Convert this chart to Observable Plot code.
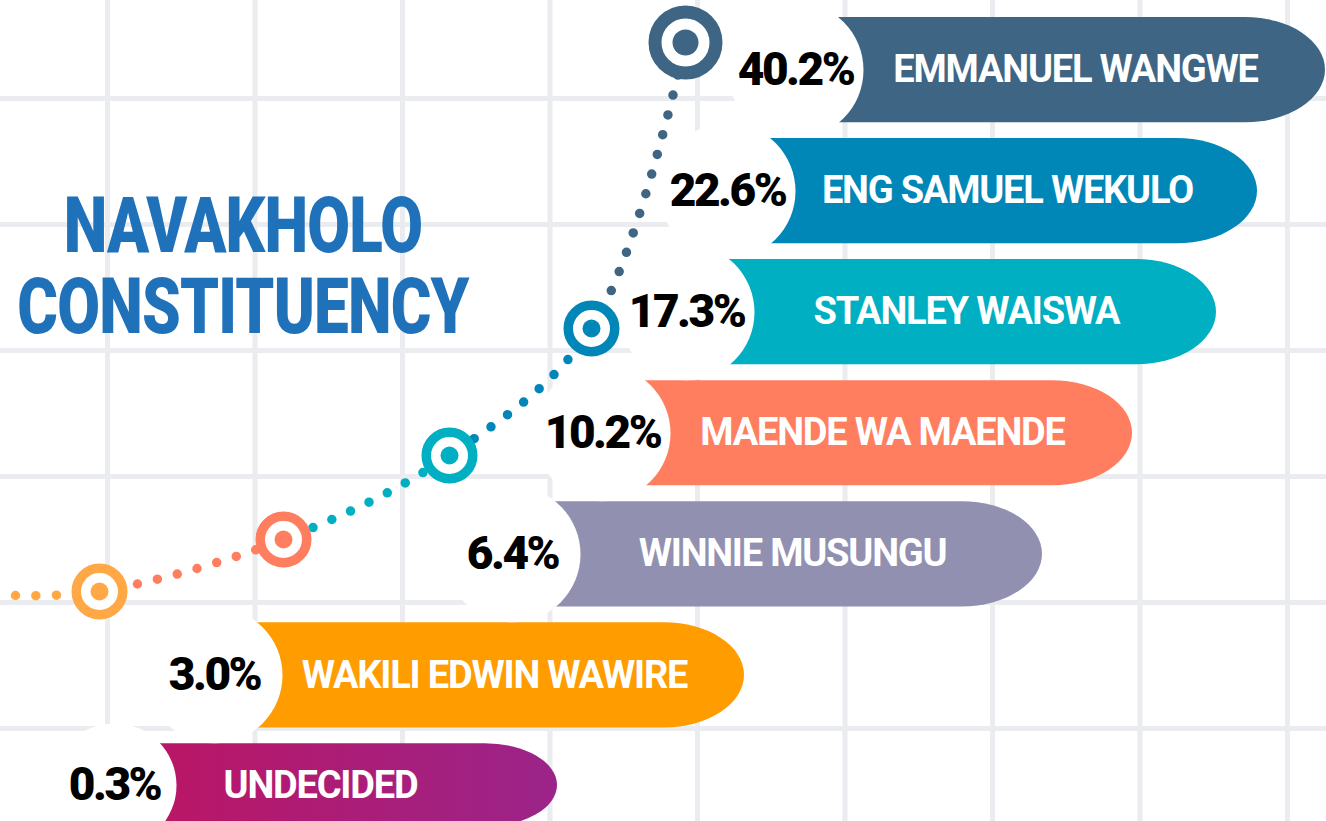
<!DOCTYPE html>
<html>
<head>
<meta charset="utf-8">
<script src="https://cdn.jsdelivr.net/npm/d3@7"></script>
<script src="https://cdn.jsdelivr.net/npm/@observablehq/plot@0.6"></script>
<style>
  html, body { margin: 0; padding: 0; background: #ffffff; }
  #wrap { position: relative; width: 1326px; height: 821px; overflow: hidden; background: #ffffff; }
  #wrap .layer { position: absolute; left: 0; top: 0; }
  .title { position: absolute; width: 800px; text-align: center; white-space: pre;
    font-family: Roboto, "Open Sans", sans-serif; font-weight: 900; font-size: 78px; line-height: 81px;
    color: #1f72ba; letter-spacing: -1px; transform-origin: 50% 50%; transform: scaleX(0.795); }
  g[aria-description="share-label"] text { letter-spacing: -2.5px; }
  g[aria-description="name-label"] text { letter-spacing: -1.2px; }
</style>
</head>
<body>
<div id="wrap">
  <svg width="0" height="0" style="position:absolute;left:0;top:0">
    <defs>
      <linearGradient id="undecidedFill" x1="0" y1="0" x2="1" y2="0">
        <stop offset="0" stop-color="#c1135d"></stop>
        <stop offset="1" stop-color="#9b248a"></stop>
      </linearGradient>
      <linearGradient id="trendStroke" gradientUnits="userSpaceOnUse" x1="0" y1="0" x2="1326" y2="0"></linearGradient>
    </defs>
  </svg>
</div>
<script>
// ---------- data ----------
const candidateNames = ["EMMANUEL WANGWE", "ENG SAMUEL WEKULO", "STANLEY WAISWA", "MAENDE WA MAENDE",
                        "WINNIE MUSUNGU", "WAKILI EDWIN WAWIRE", "UNDECIDED"];
const shares = [40.2, 22.6, 17.3, 10.2, 6.4, 3.0, 0.3];
const barColors = ["#3e6584", "#0087b8", "#00afc2", "#ff7e5f", "#9290b1", "#ff9c00", "url(#undecidedFill)"];
const markerColors = ["#3e6584", "#0087b8", "#00afc2", "#ff7e5f", "#9290b1", "#ffa845", "#ffa845"];
// anchors of the decorative trend curve, left to right
const trendNames = ["UNDECIDED", "WAKILI EDWIN WAWIRE", "MAENDE WA MAENDE", "STANLEY WAISWA",
                    "ENG SAMUEL WEKULO", "EMMANUEL WANGWE"];
const markedNames = ["WAKILI EDWIN WAWIRE", "MAENDE WA MAENDE", "STANLEY WAISWA",
                     "ENG SAMUEL WEKULO", "EMMANUEL WANGWE"];
const gridColumns = [0, 1, 2, 3, 4, 5, 6, 7, 8, 9];
const gridRows = [0, 1, 2, 3, 4, 5, 6, 7];
const titleLines = ["NAVAKHOLO", "CONSTITUENCY"];

// ---------- layout (scale ranges) ----------
const W = 1326, H = 821;
const layout = {
  labelX: [114, 214, 512, 602, 686, 727, 795], // for shares in ascending order
  rowRange: [17, 848.5],
  rowPadding: 0.1308,
  trendX: [15, 99, 283, 449, 591, 685],
  trendY: [595, 591, 539, 455, 328, 42],
  gridX: [-40.5, 1287],
  gridY: [-28, 854],
  title: {top: 185, center: 243}
};

const rows = candidateNames.map((name, i) => ({name, share: shares[i]}));
const isUndecided = d => d.name === "UNDECIDED";
const contenders = rows.filter(d => !isUndecided(d));
const undecided = rows.filter(isUndecided);
const ascending = d3.sort(shares);
const fmt = d => d3.format(".1f")(d.share) + "%";
const wrap = document.getElementById("wrap");

// ---------- layer 1: grid ----------
const gridPlot = Plot.plot({
  width: W, height: H, margin: 0,
  x: {type: "linear", domain: [0, gridColumns.length - 1], range: layout.gridX, axis: null},
  y: {type: "linear", domain: [0, gridRows.length - 1], range: layout.gridY, axis: null},
  style: {background: "#ffffff"},
  marks: [
    Plot.gridX(gridColumns, {stroke: "#ebecef", strokeWidth: 5, strokeOpacity: 1}),
    Plot.gridY(gridRows, {stroke: "#ebecef", strokeWidth: 5, strokeOpacity: 1})
  ]
});
gridPlot.classList.add("layer");
wrap.appendChild(gridPlot);

// ---------- title ----------
const titleDiv = document.createElement("div");
titleDiv.className = "title";
titleDiv.style.top = layout.title.top + "px";
titleDiv.style.left = (layout.title.center - 400) + "px";
titleDiv.textContent = titleLines.join("\n");
wrap.appendChild(titleDiv);

// ---------- layer 2: trend curve with markers ----------
const trendData = trendNames.map(n => ({name: n, share: shares[candidateNames.indexOf(n)]}));
const markData = trendData.filter(d => markedNames.includes(d.name));
const leaderShare = d3.max(shares);
const leaders = markData.filter(d => d.share === leaderShare);
const followers = markData.filter(d => d.share !== leaderShare);

const trendPlot = Plot.plot({
  width: W, height: H, margin: 0,
  x: {type: "linear", domain: trendData.map(d => d.share), range: layout.trendX, axis: null},
  y: {type: "linear", domain: trendData.map(d => d.share), range: layout.trendY, axis: null},
  color: {type: "ordinal", domain: candidateNames, range: markerColors},
  style: {background: "transparent"},
  marks: [
    Plot.line(trendData, {x: "share", y: "share", curve: "catmull-rom", stroke: "url(#trendStroke)",
      strokeWidth: 9.5, strokeDasharray: "0 20.5", strokeLinecap: "round"}),
    Plot.dot(followers, {x: "share", y: "share", r: 23.25, fill: "white", stroke: "name", strokeWidth: 9.5}),
    Plot.dot(leaders, {x: "share", y: "share", r: 30.5, fill: "white", stroke: "name", strokeWidth: 13}),
    Plot.dot(followers, {x: "share", y: "share", r: 9, fill: "name"}),
    Plot.dot(leaders, {x: "share", y: "share", r: 13, fill: "name"})
  ]
});
trendPlot.classList.add("layer");
wrap.appendChild(trendPlot);

// colour the dotted curve segment by segment, using the curve's own x scale
(function () {
  const xs = trendPlot.scale("x");
  const grad = document.getElementById("trendStroke");
  let prev = 0;
  for (let i = 1; i < trendData.length; i++) {
    const c = markerColors[candidateNames.indexOf(trendData[i].name)];
    const off = xs.apply(trendData[i].share) / W;
    [prev, off].forEach(o => {
      const s = document.createElementNS("http://www.w3.org/2000/svg", "stop");
      s.setAttribute("offset", Math.max(0, Math.min(1, o)));
      s.setAttribute("stop-color", c);
      grad.appendChild(s);
    });
    prev = off;
  }
})();

// ---------- layer 3: bars and labels ----------
const barPlot = Plot.plot({
  width: W, height: H, margin: 0,
  x: {type: "linear", domain: ascending, range: layout.labelX, axis: null},
  y: {type: "band", domain: candidateNames, range: layout.rowRange, paddingInner: layout.rowPadding,
      paddingOuter: 0, round: false, axis: null},
  color: {type: "ordinal", domain: candidateNames, range: barColors},
  style: {background: "transparent"},
  marks: [
    Plot.barX(contenders, {x1: "share", x2: "share", y: "name", fill: "name",
      insetLeft: -45, insetRight: -530, rx: 80, ry: 53}),
    Plot.barX(undecided, {x1: "share", x2: "share", y: "name", fill: "name",
      insetLeft: -45, insetRight: -443, insetBottom: 22, rx: 72, ry: 41.5}),
    Plot.dot(contenders, {x: "share", y: "name", r: 68, fill: "white"}),
    Plot.dot(undecided, {x: "share", y: "name", r: 62, fill: "white", dy: -11}),
    Plot.text(contenders, {x: "share", y: "name", text: fmt, fill: "black", fontSize: 46, fontWeight: 900,
      fontFamily: "Roboto, sans-serif", ariaDescription: "share-label"}),
    Plot.text(undecided, {x: "share", y: "name", text: fmt, fill: "black", fontSize: 46, fontWeight: 900,
      fontFamily: "Roboto, sans-serif", dy: -11, ariaDescription: "share-label"}),
    Plot.text(contenders, {x: "share", y: "name", text: "name", fill: "white", dx: 280, fontSize: 38,
      fontWeight: 700, fontFamily: "Roboto, sans-serif", ariaDescription: "name-label"}),
    Plot.text(undecided, {x: "share", y: "name", text: "name", fill: "white", dx: 206, dy: -11, fontSize: 38,
      fontWeight: 700, fontFamily: "Roboto, sans-serif", ariaDescription: "name-label"})
  ]
});
barPlot.classList.add("layer");
wrap.appendChild(barPlot);
</script>
</body>
</html>
